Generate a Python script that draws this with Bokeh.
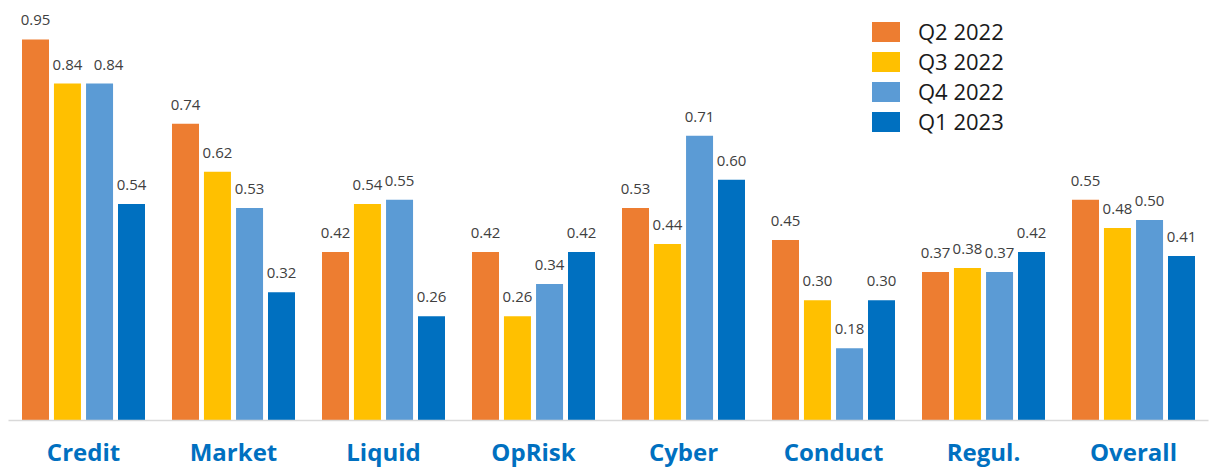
from bokeh.plotting import figure
from bokeh.models import ColumnDataSource, FactorRange, LabelSet, Legend, LegendItem
from bokeh.core.properties import value
from bokeh.transform import dodge
from bokeh.embed import file_html
from bokeh.resources import INLINE

categories = ["Credit", "Market", "Liquid", "OpRisk", "Cyber", "Conduct", "Regul.", "Overall"]
quarters = ["Q2 2022", "Q3 2022", "Q4 2022", "Q1 2023"]
q2_2022 = [0.95, 0.74, 0.42, 0.42, 0.53, 0.45, 0.37, 0.55]
q3_2022 = [0.84, 0.62, 0.54, 0.26, 0.44, 0.30, 0.38, 0.48]
q4_2022 = [0.84, 0.53, 0.55, 0.34, 0.71, 0.18, 0.37, 0.50]
q1_2023 = [0.54, 0.32, 0.26, 0.42, 0.60, 0.30, 0.42, 0.41]

series = [q2_2022, q3_2022, q4_2022, q1_2023]
colors = ["#ED7D31", "#FFC000", "#5B9BD5", "#0070C0"]
offsets = [-0.32, -0.107, 0.107, 0.32]

# labels pushed sideways (pixels) where two equal neighbours would touch
label_nudge = {("Q4 2022", "Credit"): 9}

p = figure(
    x_range=FactorRange(factors=categories, range_padding=0),
    y_range=(0, 1.047),
    width=1210, height=470,
    output_backend="svg", toolbar_location=None,
    min_border_left=8, min_border_right=2, min_border_top=0, min_border_bottom=50,
)
p.outline_line_color = None
p.xgrid.grid_line_color = None
p.ygrid.grid_line_color = None
p.yaxis.visible = False
p.background_fill_color = "white"
p.border_fill_color = "white"

xa = p.xaxis[0]
xa.axis_line_color = "#d9d9d9"
xa.axis_line_width = 1.5
xa.major_tick_line_color = None
xa.minor_tick_line_color = None
xa.major_label_text_font = "Open Sans"
xa.major_label_text_font_style = "bold"
xa.major_label_text_font_size = "24px"
xa.major_label_text_line_height = 0.9
xa.major_label_text_color = "#0070C0"
xa.major_label_standoff = 8

items = []
for name, vals, col, off in zip(quarters, series, colors, offsets):
    src = ColumnDataSource(dict(
        cat=categories, val=vals, txt=[f"{v:.2f}" for v in vals],
        dx=[label_nudge.get((name, c), 0) for c in categories],
    ))
    r = p.vbar(x=dodge("cat", off, range=p.x_range), top="val", width=0.18,
               source=src, fill_color=col, line_color=None)
    labels = LabelSet(x=dodge("cat", off, range=p.x_range), y="val", text="txt",
                      x_offset="dx", source=src, text_align="center",
                      text_baseline="bottom", y_offset=14,
                      text_font=value("Open Sans"), text_font_size="15px",
                      text_color="#404040")
    p.add_layout(labels)
    items.append(LegendItem(label=name, renderers=[r]))

legend = Legend(items=items, location=(860, 284), orientation="vertical",
                glyph_width=35, glyph_height=25, label_height=25, spacing=0,
                label_standoff=15, padding=0, margin=0,
                label_text_font="Open Sans", label_text_font_size="22px",
                label_text_color="#1a1a1a", border_line_color=None,
                background_fill_alpha=0)
p.add_layout(legend)

open("out.html", "w").write(file_html(p, INLINE))
